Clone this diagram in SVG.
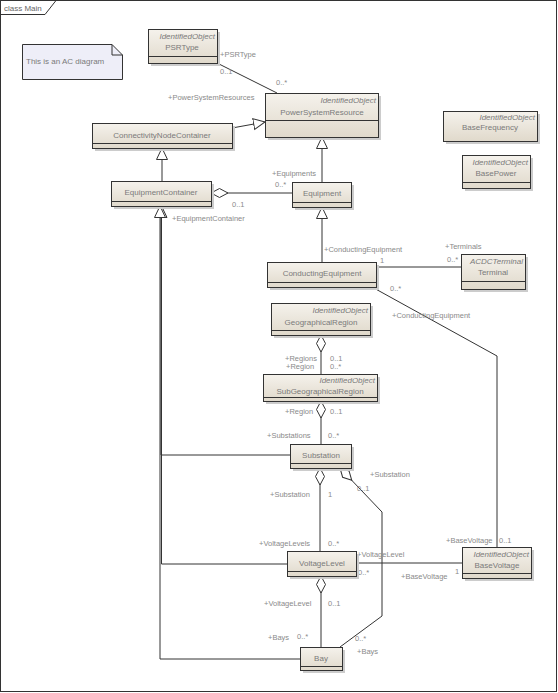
<svg xmlns="http://www.w3.org/2000/svg" width="558" height="693" viewBox="0 0 558 693">
<defs>
<linearGradient id="g" x1="0" y1="0" x2="0" y2="1">
<stop offset="0" stop-color="#f5f2ec"/>
<stop offset="1" stop-color="#e0d9cb"/>
</linearGradient>
<marker id="tri" markerUnits="userSpaceOnUse" markerWidth="14" markerHeight="14" refX="12" refY="6" orient="auto">
<path d="M0.5,0.5 L12,6 L0.5,11.5 z" fill="#fff" stroke="#333" stroke-width="1"/>
</marker>
<marker id="dia" markerUnits="userSpaceOnUse" markerWidth="20" markerHeight="12" refX="0.5" refY="5" orient="auto">
<path d="M0.5,5 L9,0.5 L17.5,5 L9,9.5 z" fill="#fff" stroke="#333" stroke-width="1"/>
</marker>
</defs>
<style>
.box{fill:url(#g);stroke:#333;stroke-width:1}
.sh{fill:#cccccc}
.sep{stroke:#333;stroke-width:1}
.t{font-family:"Liberation Sans",Arial,sans-serif;font-size:8px;fill:#7a7a7a;text-anchor:middle}
.st{font-family:"Liberation Sans",Arial,sans-serif;font-size:8px;fill:#7a7a7a;font-style:italic;text-anchor:end}
.l{font-family:"Liberation Sans",Arial,sans-serif;font-size:7.5px;fill:#8a8a8a}
.c{fill:none;stroke:#333;stroke-width:1}
</style>
<rect x="0.5" y="0.5" width="556" height="691" fill="#fff" stroke="#333" stroke-width="1"/>
<path d="M0.5,14.5 H45 L56,0.5" fill="none" stroke="#333" stroke-width="1"/>
<text x="4" y="10.5" class="l" style="font-size:8px;fill:#666">class Main</text>

<g id="connectors">
<path class="c" d="M217,63 L277,93"/>
<path class="c" d="M232,128 L265,122" marker-end="url(#tri)"/>
<path class="c" d="M162,181 L162,148" marker-end="url(#tri)"/>
<path class="c" d="M322,182 L322,137" marker-end="url(#tri)"/>
<path class="c" d="M322,262 L322,207" marker-end="url(#tri)"/>
<path class="c" d="M211,193 L292,193" marker-start="url(#dia)"/>
<path class="c" d="M376,267 L461,267"/>
<path class="c" d="M372,287 L497,356 L497,547"/>
<path class="c" d="M321,335 L321,374" marker-start="url(#dia)"/>
<path class="c" d="M321,401 L321,444" marker-start="url(#dia)"/>
<path class="c" d="M320,468 L320,551" marker-start="url(#dia)"/>
<path class="c" d="M340,468 L382,512 L382,616 L340,647" marker-start="url(#dia)"/>
<path class="c" d="M356,563 L462,563"/>
<path class="c" d="M321,576 L321,647" marker-start="url(#dia)"/>
<path class="c" d="M290,455 L161,455 L161,206" marker-end="url(#tri)"/>
<path class="c" d="M287,564 L161.5,564 L161.5,206" marker-end="url(#tri)"/>
<path class="c" d="M300,659 L160,659 L160,206" marker-end="url(#tri)"/>
</g>

<g id="labels">
<text class="l" x="220" y="57">+PSRType</text>
<text class="l" x="220" y="74">0..1</text>
<text class="l" x="276" y="85">0..*</text>
<text class="l" x="168" y="100">+PowerSystemResources</text>
<text class="l" x="272" y="176">+Equipments</text>
<text class="l" x="275" y="187">0..*</text>
<text class="l" x="232" y="207">0..1</text>
<text class="l" x="172" y="221">+EquipmentContainer</text>
<text class="l" x="324" y="252">+ConductingEquipment</text>
<text class="l" x="380" y="263">1</text>
<text class="l" x="445" y="249">+Terminals</text>
<text class="l" x="447" y="262">0..*</text>
<text class="l" x="390" y="291">0..*</text>
<text class="l" x="392" y="318">+ConductingEquipment</text>
<text class="l" x="285" y="361">+Regions</text>
<text class="l" x="286" y="369">+Region</text>
<text class="l" x="330" y="361">0..1</text>
<text class="l" x="330" y="369">0..*</text>
<text class="l" x="285" y="414">+Region</text>
<text class="l" x="330" y="414">0..1</text>
<text class="l" x="267" y="438">+Substations</text>
<text class="l" x="328" y="438">0..*</text>
<text class="l" x="270" y="497">+Substation</text>
<text class="l" x="328" y="497">1</text>
<text class="l" x="370" y="477">+Substation</text>
<text class="l" x="357" y="491">0..1</text>
<text class="l" x="259" y="546">+VoltageLevels</text>
<text class="l" x="328" y="546">0..*</text>
<text class="l" x="357" y="557">+VoltageLevel</text>
<text class="l" x="358" y="575">0..*</text>
<text class="l" x="401" y="579">+BaseVoltage</text>
<text class="l" x="455" y="574">1</text>
<text class="l" x="446" y="543">+BaseVoltage</text>
<text class="l" x="499" y="543">0..1</text>
<text class="l" x="264" y="606">+VoltageLevel</text>
<text class="l" x="328" y="606">0..1</text>
<text class="l" x="268" y="640">+Bays</text>
<text class="l" x="297" y="639">0..*</text>
<text class="l" x="355" y="641">0..*</text>
<text class="l" x="357" y="654">+Bays</text>
</g>

<g id="note">
<path d="M22.5,44.5 H112 L122.5,55 V79.5 H22.5 z" fill="#eeeef8" stroke="#333" stroke-width="1"/>
<path d="M112,44.5 V55 H122.5" fill="none" stroke="#333" stroke-width="1"/>
<text class="l" x="26" y="64" style="font-size:8px;fill:#7a7a7a">This is an AC diagram</text>
</g>

<g id="PSRType">
<rect class="sh" x="151" y="32" width="69" height="34"/>
<rect class="box" x="148.5" y="29.5" width="69" height="34"/>
<line class="sep" x1="148.5" y1="56.5" x2="217.5" y2="56.5"/>
<text class="st" x="215" y="39">IdentifiedObject</text>
<text class="t" x="182" y="50">PSRType</text>
</g>

<g id="PowerSystemResource">
<rect class="sh" x="268" y="96" width="113" height="44"/>
<rect class="box" x="265.5" y="93.5" width="113" height="44"/>
<line class="sep" x1="265.5" y1="120.5" x2="378.5" y2="120.5"/>
<text class="st" x="376" y="103">IdentifiedObject</text>
<text class="t" x="322" y="115">PowerSystemResource</text>
</g>

<g id="ConnectivityNodeContainer">
<rect class="sh" x="95" y="126" width="140" height="25"/>
<rect class="box" x="92.5" y="123.5" width="140" height="25"/>
<line class="sep" x1="92.5" y1="143.5" x2="232.5" y2="143.5"/>
<text class="t" x="162" y="138">ConnectivityNodeContainer</text>
</g>

<g id="EquipmentContainer">
<rect class="sh" x="114" y="184" width="100" height="25"/>
<rect class="box" x="111.5" y="181.5" width="100" height="25"/>
<line class="sep" x1="111.5" y1="201.5" x2="211.5" y2="201.5"/>
<text class="t" x="161" y="195">EquipmentContainer</text>
</g>

<g id="Equipment">
<rect class="sh" x="295" y="185" width="59" height="25"/>
<rect class="box" x="292.5" y="182.5" width="59" height="25"/>
<line class="sep" x1="292.5" y1="202.5" x2="351.5" y2="202.5"/>
<text class="t" x="322" y="196">Equipment</text>
</g>

<g id="BaseFrequency">
<rect class="sh" x="446" y="114" width="94" height="30"/>
<rect class="box" x="443.5" y="111.5" width="94" height="30"/>
<text class="st" x="535" y="120">IdentifiedObject</text>
<text class="t" x="490" y="130">BaseFrequency</text>
</g>

<g id="BasePower">
<rect class="sh" x="465" y="158" width="68" height="33"/>
<rect class="box" x="462.5" y="155.5" width="68" height="33"/>
<line class="sep" x1="462.5" y1="182.5" x2="530.5" y2="182.5"/>
<text class="st" x="528" y="165">IdentifiedObject</text>
<text class="t" x="496" y="176">BasePower</text>
</g>

<g id="ConductingEquipment">
<rect class="sh" x="270" y="265" width="109" height="25"/>
<rect class="box" x="267.5" y="262.5" width="109" height="25"/>
<line class="sep" x1="267.5" y1="282.5" x2="376.5" y2="282.5"/>
<text class="t" x="322" y="276">ConductingEquipment</text>
</g>

<g id="Terminal">
<rect class="sh" x="464" y="257" width="64" height="35"/>
<rect class="box" x="461.5" y="254.5" width="64" height="35"/>
<line class="sep" x1="461.5" y1="281.5" x2="525.5" y2="281.5"/>
<text class="st" x="523" y="264">ACDCTerminal</text>
<text class="t" x="493" y="275">Terminal</text>
</g>

<g id="GeographicalRegion">
<rect class="sh" x="274" y="306" width="99" height="32"/>
<rect class="box" x="271.5" y="303.5" width="99" height="32"/>
<line class="sep" x1="271.5" y1="330.5" x2="370.5" y2="330.5"/>
<text class="st" x="368" y="313">IdentifiedObject</text>
<text class="t" x="321" y="325">GeographicalRegion</text>
</g>

<g id="SubGeographicalRegion">
<rect class="sh" x="266" y="377" width="114" height="27"/>
<rect class="box" x="263.5" y="374.5" width="114" height="27"/>
<line class="sep" x1="263.5" y1="397.5" x2="377.5" y2="397.5"/>
<text class="st" x="375" y="383">IdentifiedObject</text>
<text class="t" x="320" y="394">SubGeographicalRegion</text>
</g>

<g id="Substation">
<rect class="sh" x="293" y="447" width="61" height="24"/>
<rect class="box" x="290.5" y="444.5" width="61" height="24"/>
<line class="sep" x1="290.5" y1="463.5" x2="351.5" y2="463.5"/>
<text class="t" x="321" y="458">Substation</text>
</g>

<g id="VoltageLevel">
<rect class="sh" x="290" y="554" width="69" height="25"/>
<rect class="box" x="287.5" y="551.5" width="69" height="25"/>
<line class="sep" x1="287.5" y1="571.5" x2="356.5" y2="571.5"/>
<text class="t" x="322" y="566">VoltageLevel</text>
</g>

<g id="BaseVoltage">
<rect class="sh" x="465" y="550" width="69" height="31"/>
<rect class="box" x="462.5" y="547.5" width="69" height="31"/>
<line class="sep" x1="462.5" y1="573.5" x2="531.5" y2="573.5"/>
<text class="st" x="529" y="557">IdentifiedObject</text>
<text class="t" x="497" y="568">BaseVoltage</text>
</g>

<g id="Bay">
<rect class="sh" x="303" y="650" width="42" height="23"/>
<rect class="box" x="300.5" y="647.5" width="42" height="23"/>
<line class="sep" x1="300.5" y1="666.5" x2="342.5" y2="666.5"/>
<text class="t" x="321" y="661">Bay</text>
</g>
</svg>
